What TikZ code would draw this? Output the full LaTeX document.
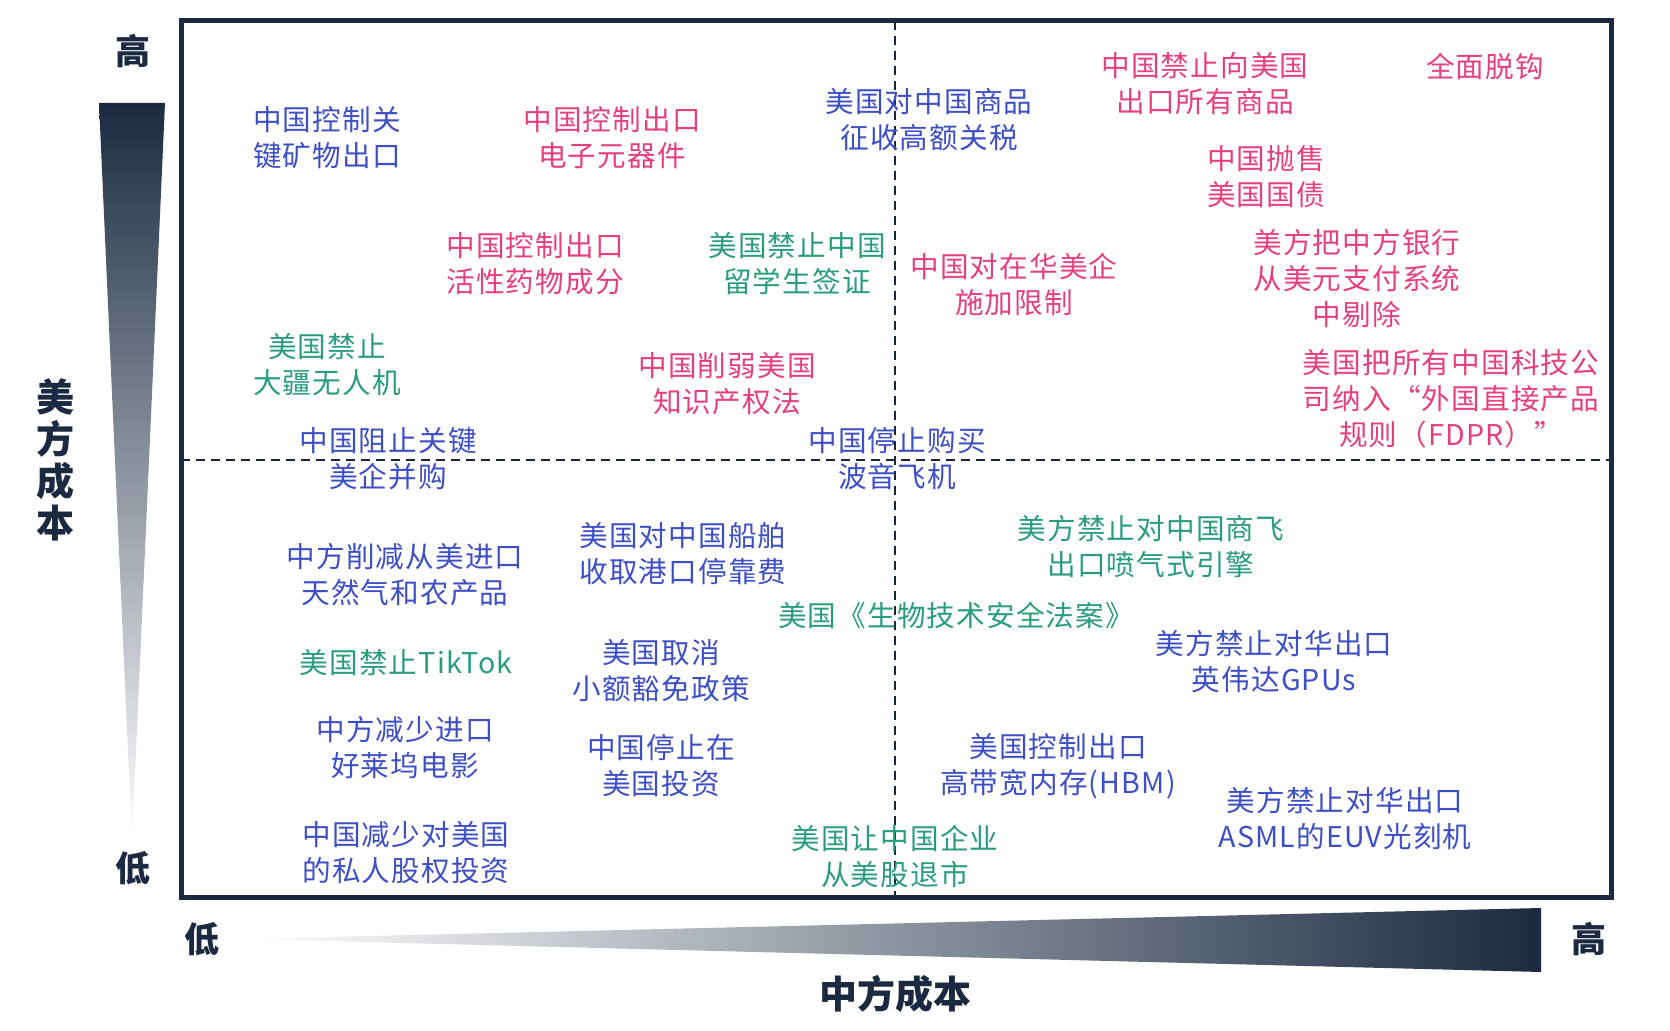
\documentclass[tikz,border=0pt]{standalone}
\usepackage{fontspec}
\setmainfont{Noto Sans CJK SC}
\newfontfamily\spaced[LetterSpace=4]{Noto Sans CJK SC}
\usetikzlibrary{positioning}
\definecolor{navy}{HTML}{1B2A41}
\definecolor{cblue}{HTML}{3D4FC4}
\definecolor{cpink}{HTML}{E5407E}
\definecolor{cteal}{HTML}{2A9C7E}
\begin{document}
\begin{tikzpicture}[x=0.5pt,y=-0.5pt,
  lbl/.style={align=center,inner sep=0pt,font=\spaced\fontsize{14.3}{18}\selectfont},
  bl/.style={lbl,text=cblue},
  pk/.style={lbl,text=cpink},
  tl/.style={lbl,text=cteal},
  axlbl/.style={inner sep=0pt,text=navy,font=\fontsize{17.5}{17.5}\selectfont\bfseries},
  axname/.style={inner sep=0pt,text=navy,font=\fontsize{19}{19}\selectfont\bfseries},
  quad/.style={draw=navy!90!black,line width=1pt,dash pattern=on 4.5pt off 3pt}]
\useasboundingbox (0,0) rectangle (1670,1031);
% gradient axes
\shade[top color=navy,bottom color=white,middle color=navy!50!white] (99,103) -- (165,103) -- (132,841) -- cycle;
\shade[left color=white,right color=navy,middle color=navy!50!white] (245,939) -- (1541,908) -- (1541,972) -- cycle;
% frame
\coordinate (tl) at (181,21);
\coordinate (br) at (1611,897);
\coordinate (vt) at (895,21);
\coordinate (vb) at (895,897);
\coordinate (hl) at (181,460);
\coordinate (hr) at (1611,460);
\draw[quad] (vt) -- (vb);
\draw[quad] (hl) -- (hr);
\draw[navy,line width=2.5pt] (tl) rectangle (br);
% axis labels
\node[axlbl] (yhi) at (133,51) {高};
\node[axlbl] (ylo) at (133,868) {低};
\node[axlbl] (xlo) at (202,939) {低};
\node[axlbl] (xhi) at (1589,939) {高};
\node[axname,align=center,font=\fontsize{19}{21}\selectfont\bfseries] (yname) at (55,460) {美\\方\\成\\本};
\node[axname] (xname) at (895,994) {中方成本};
% items
\node[bl] (n1) at (327,138) {中国控制关\\键矿物出口};
\node[pk] (n2) at (612,138) {中国控制出口\\电子元器件};
\node[bl] (n3) at (929,120) {美国对中国商品\\征收高额关税};
\node[pk] (n4) at (1205,84) {中国禁止向美国\\出口所有商品};
\node[pk] (n5) at (1485,66) {全面脱钩};
\node[pk] (n6) at (1266,177) {中国抛售\\美国国债};
\node[pk] (n7) at (1357,279) {美方把中方银行\\从美元支付系统\\中剔除};
\node[pk] (n8) at (1451,399) {美国把所有中国科技公\\司纳入“外国直接产品\\规则（FDPR）”};
\node[pk] (n9) at (535,264) {中国控制出口\\活性药物成分};
\node[tl] (n10) at (797,264) {美国禁止中国\\留学生签证};
\node[pk] (n11) at (1014,285) {中国对在华美企\\施加限制};
\node[tl] (n12) at (327,365) {美国禁止\\大疆无人机};
\node[pk] (n13) at (727,384) {中国削弱美国\\知识产权法};
\node[bl] (n14) at (388,459) {中国阻止关键\\美企并购};
\node[bl] (n15) at (897,459) {中国停止购买\\波音飞机};
\node[bl] (n16) at (405,575) {中方削减从美进口\\天然气和农产品};
\node[bl] (n17) at (683,554) {美国对中国船舶\\收取港口停靠费};
\node[tl] (n18) at (1151,547) {美方禁止对中国商飞\\出口喷气式引擎};
\node[tl] (n19) at (956,616) {美国《生物技术安全法案》};
\node[tl] (n20) at (406,663) {美国禁止TikTok};
\node[bl] (n21) at (661,671) {美国取消\\小额豁免政策};
\node[bl] (n22) at (1274,662) {美方禁止对华出口\\英伟达GPUs};
\node[bl] (n23) at (405,748) {中方减少进口\\好莱坞电影};
\node[bl] (n24) at (661,766) {中国停止在\\美国投资};
\node[bl] (n25) at (1058,766) {美国控制出口\\高带宽内存(HBM)};
\node[bl] (n26) at (1345,819) {美方禁止对华出口\\ASML的EUV光刻机};
\node[bl] (n27) at (406,853) {中国减少对美国\\的私人股权投资};
\node[tl] (n28) at (895,857) {美国让中国企业\\从美股退市};
\end{tikzpicture}
\end{document}
